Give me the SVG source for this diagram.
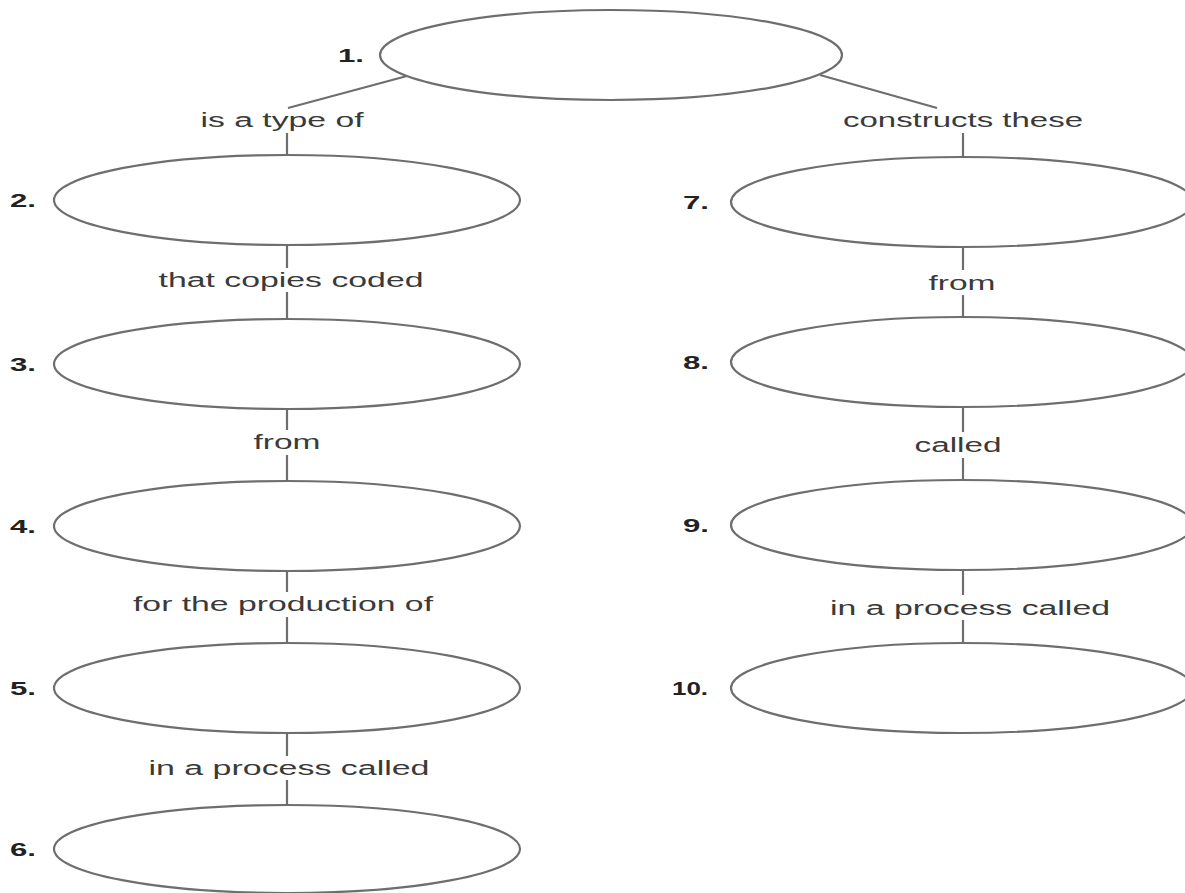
<svg xmlns="http://www.w3.org/2000/svg" width="1185" height="893" viewBox="0 0 1185 893">
<style>
.node{fill:#fff;stroke:#6e6e6e;stroke-width:2.2}
.num{font-family:"Liberation Sans",Arial,sans-serif;font-weight:bold;font-size:18px;fill:#222}
.lbl{font-family:"Liberation Sans",Arial,sans-serif;font-size:20px;fill:#3a3a3a;text-anchor:middle}
.edge{stroke:#6e6e6e;stroke-width:2.2;fill:none}
</style>
<rect width="1185" height="893" fill="#fff"/>
<g id="connectors">
<line class="edge" x1="407" y1="76" x2="288" y2="108"/>
<line class="edge" x1="820" y1="75" x2="937" y2="108"/>
<line class="edge" x1="287" y1="133" x2="287" y2="155"/>
<line class="edge" x1="287" y1="245" x2="287" y2="268"/>
<line class="edge" x1="287" y1="292" x2="287" y2="319"/>
<line class="edge" x1="287" y1="409" x2="287" y2="430"/>
<line class="edge" x1="287" y1="455" x2="287" y2="481"/>
<line class="edge" x1="287" y1="571" x2="287" y2="592"/>
<line class="edge" x1="287" y1="617" x2="287" y2="643"/>
<line class="edge" x1="287" y1="733" x2="287" y2="756"/>
<line class="edge" x1="287" y1="780" x2="287" y2="805"/>
<line class="edge" x1="963" y1="133" x2="963" y2="157"/>
<line class="edge" x1="963" y1="247" x2="963" y2="270"/>
<line class="edge" x1="963" y1="295" x2="963" y2="317"/>
<line class="edge" x1="963" y1="407" x2="963" y2="432"/>
<line class="edge" x1="963" y1="458" x2="963" y2="480"/>
<line class="edge" x1="963" y1="570" x2="963" y2="595"/>
<line class="edge" x1="963" y1="620" x2="963" y2="643"/>
<text class="lbl" x="282" y="127" textLength="163" lengthAdjust="spacingAndGlyphs">is a type of</text>
<text class="lbl" x="963" y="127" textLength="240" lengthAdjust="spacingAndGlyphs">constructs these</text>
<text class="lbl" x="291" y="287" textLength="265" lengthAdjust="spacingAndGlyphs">that copies coded</text>
<text class="lbl" x="287" y="449" textLength="67" lengthAdjust="spacingAndGlyphs">from</text>
<text class="lbl" x="283" y="611" textLength="300" lengthAdjust="spacingAndGlyphs">for the production of</text>
<text class="lbl" x="289" y="775" textLength="281" lengthAdjust="spacingAndGlyphs">in a process called</text>
<text class="lbl" x="962" y="290" textLength="67" lengthAdjust="spacingAndGlyphs">from</text>
<text class="lbl" x="958" y="452" textLength="87" lengthAdjust="spacingAndGlyphs">called</text>
<text class="lbl" x="970" y="615" textLength="280" lengthAdjust="spacingAndGlyphs">in a process called</text>
</g>
<g id="n1"><ellipse class="node" cx="611" cy="55" rx="231" ry="45"/><text class="num" x="338" y="62" textLength="26" lengthAdjust="spacingAndGlyphs">1.</text></g>
<g id="n2"><ellipse class="node" cx="287" cy="200" rx="233" ry="45"/><text class="num" x="10" y="207" textLength="26" lengthAdjust="spacingAndGlyphs">2.</text></g>
<g id="n3"><ellipse class="node" cx="287" cy="364" rx="233" ry="45"/><text class="num" x="10" y="371" textLength="26" lengthAdjust="spacingAndGlyphs">3.</text></g>
<g id="n4"><ellipse class="node" cx="287" cy="526" rx="233" ry="45"/><text class="num" x="10" y="533" textLength="26" lengthAdjust="spacingAndGlyphs">4.</text></g>
<g id="n5"><ellipse class="node" cx="287" cy="688" rx="233" ry="45"/><text class="num" x="10" y="695" textLength="26" lengthAdjust="spacingAndGlyphs">5.</text></g>
<g id="n6"><ellipse class="node" cx="287" cy="849" rx="233" ry="44"/><text class="num" x="10" y="856" textLength="26" lengthAdjust="spacingAndGlyphs">6.</text></g>
<g id="n7"><ellipse class="node" cx="962" cy="202" rx="231" ry="45"/><text class="num" x="683" y="209" textLength="26" lengthAdjust="spacingAndGlyphs">7.</text></g>
<g id="n8"><ellipse class="node" cx="962" cy="362" rx="231" ry="45"/><text class="num" x="683" y="369" textLength="26" lengthAdjust="spacingAndGlyphs">8.</text></g>
<g id="n9"><ellipse class="node" cx="962" cy="525" rx="231" ry="45"/><text class="num" x="683" y="532" textLength="26" lengthAdjust="spacingAndGlyphs">9.</text></g>
<g id="n10"><ellipse class="node" cx="962" cy="688" rx="231" ry="45"/><text class="num" x="672" y="695" textLength="36" lengthAdjust="spacingAndGlyphs">10.</text></g>
</svg>
